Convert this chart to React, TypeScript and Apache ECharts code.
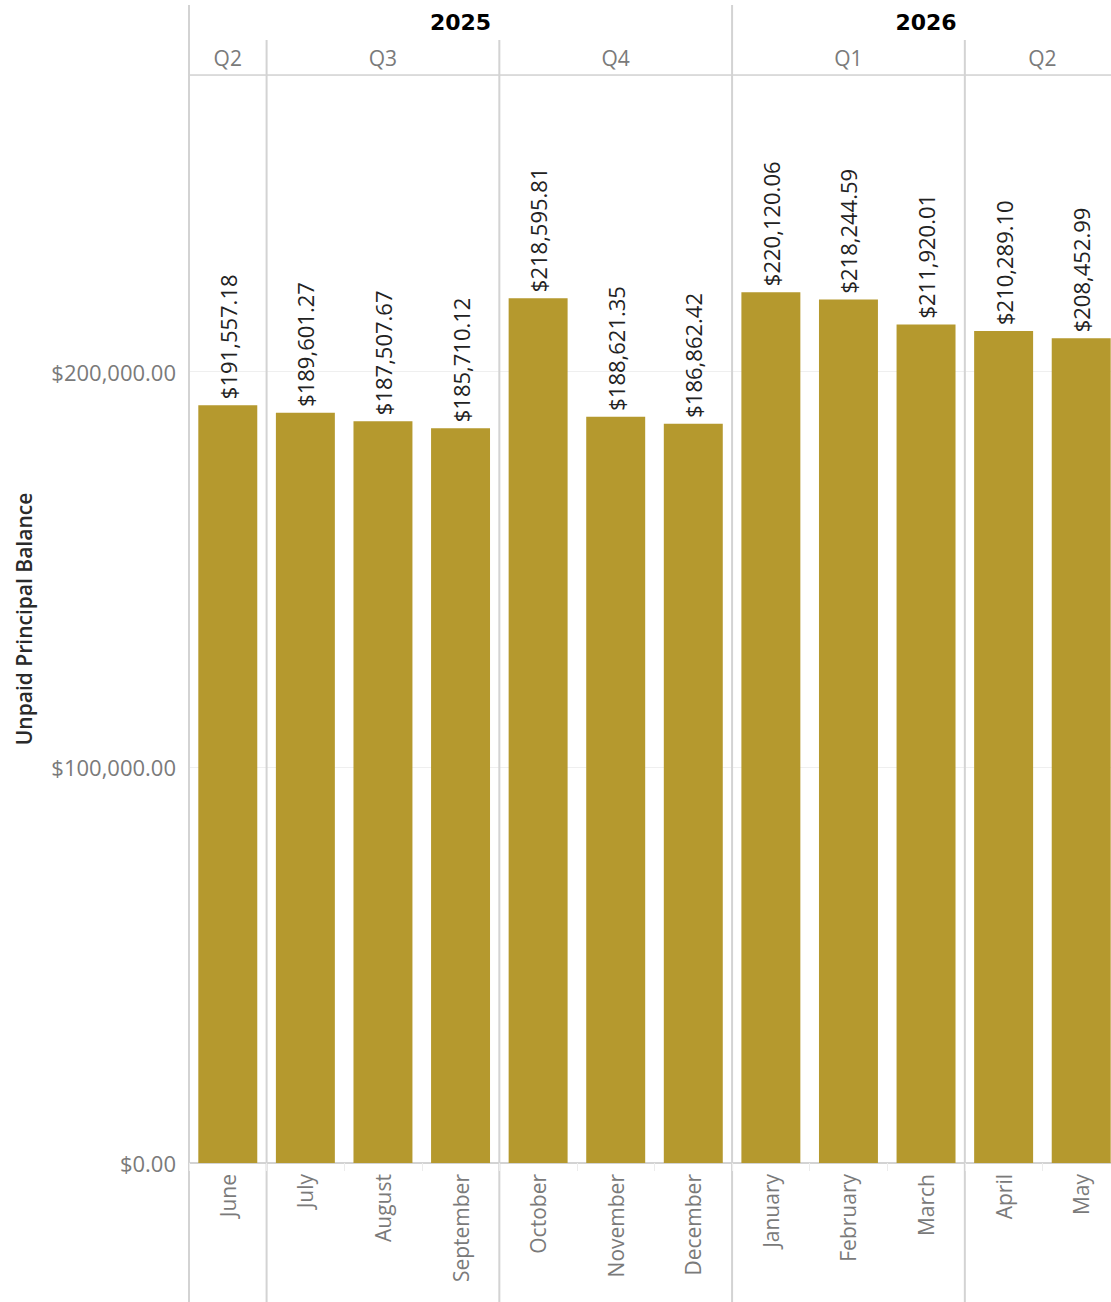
import React, { useEffect, useRef } from "react";
import * as echarts from "echarts";

const months = ["June", "July", "August", "September", "October", "November", "December", "January", "February", "March", "April", "May"];
const balances = [191557.18, 189601.27, 187507.67, 185710.12, 218595.81, 188621.35, 186862.42, 220120.06, 218244.59, 211920.01, 210289.1, 208452.99];
const quarters = [
  { label: "Q2", from: 0, to: 0 },
  { label: "Q3", from: 1, to: 3 },
  { label: "Q4", from: 4, to: 6 },
  { label: "Q1", from: 7, to: 9 },
  { label: "Q2", from: 10, to: 11 },
];
const years = [
  { label: "2025", from: 0, to: 6 },
  { label: "2026", from: 7, to: 11 },
];
const yTicks = [0, 100000, 200000];

const W = 1111;
const CW = 1120;
const H = 1302;
const FONT = "'Open Sans', 'Noto Sans', sans-serif";
const LINE = "#d3d3d3";

const fmt = (v: number) =>
  "$" + v.toLocaleString("en-US", { minimumFractionDigits: 2, maximumFractionDigits: 2 });

export default function App() {
  const ref = useRef<HTMLDivElement>(null);
  useEffect(() => {
    if (!ref.current) return;
    const chart = echarts.init(ref.current, null, { renderer: "svg" });
    chart.setOption({
      animation: false,
      backgroundColor: "#ffffff",
      grid: { left: 189, right: 0, top: 75, bottom: 139 },
      xAxis: {
        type: "category",
        data: months,
        axisLine: { show: true, lineStyle: { color: LINE, width: 2 } },
        axisTick: { show: true, length: 8, lineStyle: { color: "#ececec", width: 1 } },
        axisLabel: {
          rotate: 90,
          margin: 11,
          color: "#7a7a7a",
          fontSize: 21,
          fontFamily: FONT,
        },
      },
      yAxis: {
        type: "value",
        min: 0,
        max: 275000,
        interval: 100000,
        name: "Unpaid Principal Balance",
        nameLocation: "middle",
        nameGap: 155,
        nameTextStyle: { color: "#2a2a2a", fontSize: 21, fontFamily: FONT, fontWeight: 600 },
        axisLine: { show: false },
        axisTick: { show: false },
        splitLine: { show: true, lineStyle: { color: "#efefef", width: 1 } },
        axisLabel: {
          showMaxLabel: false,
          margin: 13,
          color: "#7a7a7a",
          fontSize: 22,
          fontFamily: FONT,
          formatter: (v: number) => (yTicks.includes(v) ? fmt(v) : ""),
        },
      },
      series: [
        {
          type: "bar",
          data: balances,
          barWidth: "76%",
          itemStyle: { color: "#b5992e" },
          label: {
            show: true,
            position: "top",
            rotate: 90,
            align: "left",
            verticalAlign: "middle",
            distance: 6,
            color: "#222222",
            fontSize: 22,
            fontFamily: FONT,
            formatter: (p: any) => fmt(p.value),
          },
        },
      ],
    });

    const c0 = chart.convertToPixel({ xAxisIndex: 0 }, 0) as number;
    const c1 = chart.convertToPixel({ xAxisIndex: 0 }, 1) as number;
    const bw = c1 - c0;
    const left = (i: number) => c0 - bw / 2 + i * bw;
    const right = (i: number) => c0 + bw / 2 + i * bw;
    const plotTop = 75;

    const graphics: any[] = [];
    graphics.push({
      type: "line",
      shape: { x1: left(0), y1: plotTop, x2: CW, y2: plotTop },
      style: { stroke: LINE, lineWidth: 1.5 },
      silent: true,
    });
    quarters.forEach((q) => {
      const x = left(q.from);
      const isYearStart = years.some((y) => y.from === q.from);
      graphics.push({
        type: "line",
        shape: { x1: x, y1: isYearStart ? 5 : 40, x2: x, y2: H },
        style: { stroke: LINE, lineWidth: 2 },
        silent: true,
      });
      const cx = (left(q.from) + right(q.to)) / 2;
      graphics.push({
        type: "text",
        x: cx,
        y: 58,
        style: {
          text: q.label,
          fill: "#7a7a7a",
          font: `21px ${FONT}`,
          align: "center",
          verticalAlign: "middle",
        },
        silent: true,
      });
    });
    years.forEach((y) => {
      const cx = (left(y.from) + right(y.to)) / 2;
      graphics.push({
        type: "text",
        x: cx,
        y: 22,
        style: {
          text: y.label,
          fill: "#000000",
          font: `900 22px 'DejaVu Sans', sans-serif`,
          align: "center",
          verticalAlign: "middle",
        },
        silent: true,
      });
    });
    chart.setOption({ graphic: graphics });

    return () => chart.dispose();
  }, []);
  return (
    <div style={{ position: "absolute", left: 0, top: 0, width: W, height: H, overflow: "hidden", background: "#fff" }}>
      <div ref={ref} style={{ position: "absolute", left: 0, top: 0, width: CW, height: H }} />
    </div>
  );
}
